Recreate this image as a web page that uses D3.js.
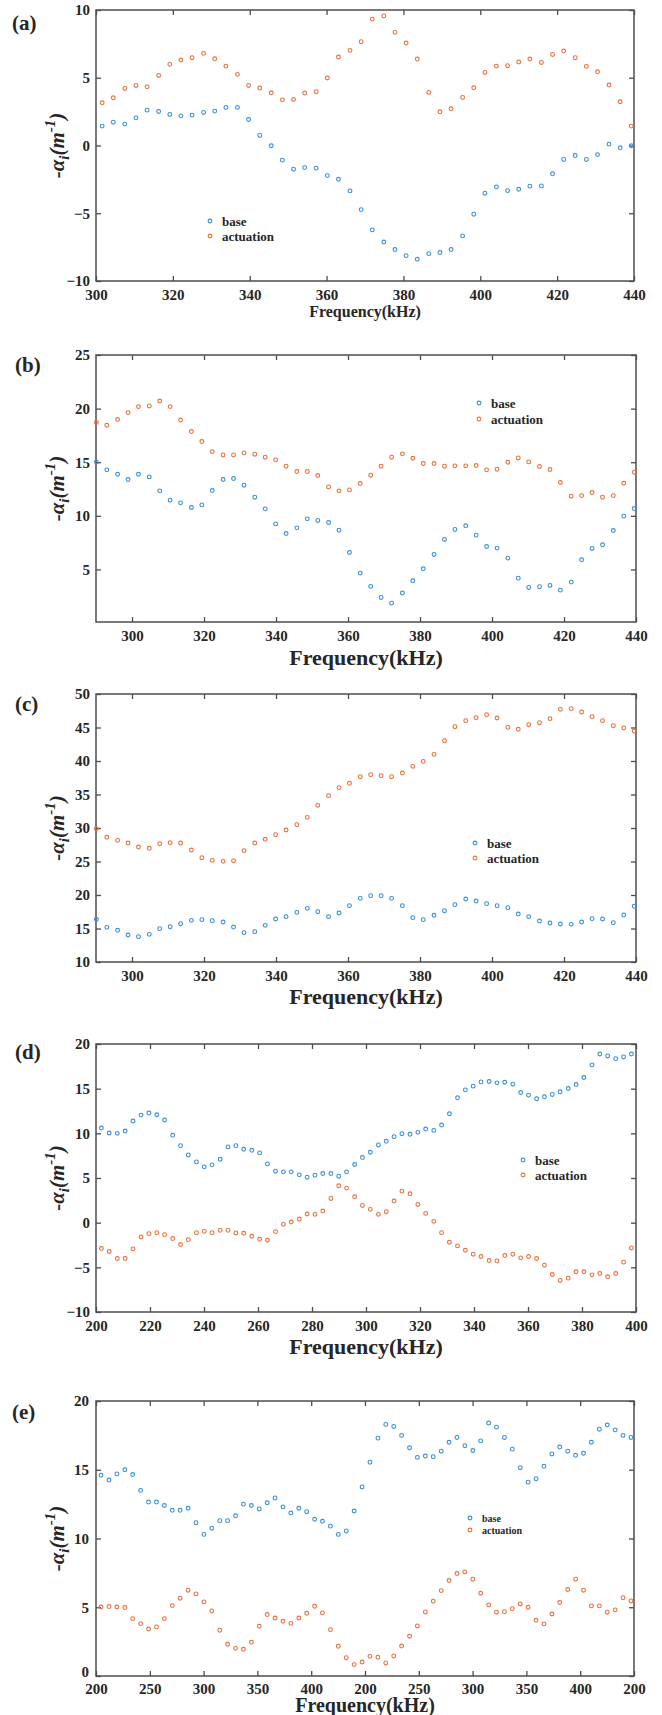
<!DOCTYPE html>
<html>
<head>
<meta charset="utf-8">
<script src="https://cdn.jsdelivr.net/npm/d3@7/dist/d3.min.js"></script>
<style>
  html, body { margin: 0; padding: 0; background: #ffffff; }
  svg { display: block; }
  text { font-family: "Liberation Serif", "Times New Roman", serif; fill: #262626; }
</style>
</head>
<body>
<svg id="chart" width="662" height="1715"></svg>
<script>
// ---------------- DATA ----------------
const seriesNames = ["base", "actuation"];
const panelLabels = ["(a)", "(b)", "(c)", "(d)", "(e)"];
const xTitle = "Frequency(kHz)";

// (a)
const freqA = [301.6,304.5,307.5,310.4,313.3,316.3,319.2,322.1,325.0,328.0,330.9,333.8,336.8,339.7,342.6,345.6,348.5,351.4,354.3,357.3,360.2,363.1,366.1,369.0,371.9,374.9,377.8,380.7,383.6,386.6,389.5,392.4,395.4,398.3,401.2,404.2,407.1,410.0,412.9,415.9,418.8,421.7,424.7,427.6,430.5,433.5,436.4,439.3];
const baseA = [1.43,1.72,1.58,2.04,2.61,2.51,2.29,2.19,2.24,2.44,2.54,2.81,2.81,1.92,0.74,-0.02,-1.08,-1.75,-1.63,-1.67,-2.22,-2.49,-3.35,-4.73,-6.23,-7.12,-7.68,-8.13,-8.40,-7.98,-7.90,-7.68,-6.67,-5.07,-3.52,-3.05,-3.33,-3.23,-3.00,-2.98,-2.09,-1.03,-0.74,-1.03,-0.67,0.10,-0.17,-0.02];
const actA = [3.15,3.52,4.21,4.43,4.33,5.17,5.99,6.31,6.48,6.80,6.40,5.86,5.25,4.43,4.24,3.89,3.37,3.40,3.87,3.97,4.98,6.53,7.02,7.66,9.33,9.56,8.35,7.56,6.38,3.92,2.49,2.71,3.55,4.26,5.39,5.86,5.89,6.16,6.38,6.13,6.72,6.97,6.48,5.84,5.44,4.46,3.23,1.43];
const xTicksA = [300,320,340,360,380,400,420,440];
const yTicksA = [-10,-5,0,5,10];

// (b) and (c) share the frequency grid
const freqBC = [290.1,293.0,296.0,298.9,301.8,304.8,307.7,310.6,313.5,316.5,319.4,322.3,325.3,328.2,331.1,334.1,337.0,339.9,342.8,345.8,348.7,351.6,354.6,357.5,360.4,363.4,366.3,369.2,372.1,375.1,378.0,380.9,383.9,386.8,389.7,392.7,395.6,398.5,401.4,404.4,407.3,410.2,413.2,416.1,419.0,422.0,424.9,427.8,430.7,433.7,436.6,439.5];
const baseB = [15.03,14.29,13.88,13.39,13.88,13.63,12.33,11.46,11.21,10.78,11.02,12.36,13.39,13.48,12.86,11.74,10.65,9.25,8.35,8.88,9.72,9.57,9.38,8.66,6.58,4.66,3.42,2.39,1.86,2.80,3.94,5.06,6.40,7.80,8.73,9.07,8.20,7.14,6.99,6.06,4.19,3.32,3.39,3.51,3.07,3.82,5.90,6.96,7.30,8.63,9.97,10.68];
const actB = [18.70,18.45,18.98,19.63,20.19,20.25,20.71,20.19,18.94,17.86,16.93,15.99,15.68,15.68,15.87,15.75,15.47,15.22,14.63,14.13,14.13,13.76,12.70,12.33,12.42,13.01,13.79,14.63,15.47,15.78,15.37,14.88,14.88,14.63,14.66,14.66,14.69,14.29,14.35,15.00,15.40,15.03,14.60,14.32,13.11,11.83,11.89,12.17,11.74,11.89,13.04,14.07];
const xTicksBC = [300,320,340,360,380,400,420,440];
const yTicksB = [5,10,15,20,25];

const baseC = [16.37,15.17,14.73,14.03,13.78,14.13,14.98,15.27,15.72,16.22,16.32,16.17,15.97,15.22,14.38,14.53,15.47,16.42,16.77,17.41,18.01,17.51,16.77,17.31,18.41,19.50,19.90,19.90,19.50,18.41,16.62,16.32,16.97,17.66,18.56,19.40,19.10,18.71,18.41,18.11,17.16,16.77,16.12,15.82,15.67,15.62,15.97,16.47,16.42,15.87,17.01,18.31];
const actC = [29.90,28.61,28.16,27.76,27.16,26.97,27.66,27.81,27.76,26.72,25.57,25.17,25.02,25.12,26.62,27.76,28.31,29.00,29.70,30.50,31.59,33.38,34.83,36.02,36.67,37.66,37.96,37.81,37.66,38.21,39.20,39.95,40.99,43.03,45.12,46.02,46.47,46.92,46.42,45.02,44.73,45.42,45.72,46.32,47.71,47.81,47.31,46.62,46.02,45.27,44.93,44.48];
const yTicksC = [10,15,20,25,30,35,40,45,50];

// (d)
const freqD = [202.0,204.9,207.9,210.8,213.7,216.7,219.6,222.5,225.4,228.4,231.3,234.2,237.2,240.1,243.0,246.0,248.9,251.8,254.7,257.7,260.6,263.5,266.5,269.4,272.3,275.3,278.2,281.1,284.0,287.0,289.9,292.8,295.8,298.7,301.6,304.6,307.5,310.4,313.3,316.3,319.2,322.1,325.1,328.0,330.9,333.9,336.8,339.7,342.6,345.6,348.5,351.4,354.4,357.3,360.2,363.2,366.1,369.0,371.9,374.9,377.8,380.7,383.7,386.6,389.5,392.5,395.4,398.3];
const baseD = [10.59,10.04,10.00,10.26,11.38,12.04,12.27,12.08,11.49,9.78,8.62,7.58,6.80,6.25,6.47,7.10,8.48,8.62,8.22,8.10,7.81,6.58,5.76,5.69,5.69,5.35,5.09,5.32,5.50,5.50,5.20,5.69,6.51,7.29,7.88,8.70,9.11,9.63,9.96,9.89,10.11,10.48,10.33,10.93,12.19,13.98,14.87,15.28,15.76,15.80,15.65,15.72,15.50,14.57,14.28,13.87,14.09,14.35,14.65,15.02,15.46,16.25,17.66,18.88,18.66,18.36,18.55,18.88];
const actD = [-2.90,-3.23,-4.01,-4.01,-2.94,-1.60,-1.23,-1.12,-1.34,-1.78,-2.45,-1.90,-1.12,-0.97,-1.12,-0.86,-0.86,-1.15,-1.19,-1.52,-1.86,-1.97,-1.00,-0.19,0.07,0.41,0.97,0.93,1.30,2.71,4.13,3.87,2.90,1.93,1.49,0.93,1.23,2.42,3.53,3.23,2.04,1.04,0.15,-1.12,-2.19,-2.60,-3.09,-3.53,-3.79,-4.24,-4.28,-3.68,-3.53,-3.94,-3.79,-4.01,-4.76,-5.80,-6.47,-6.21,-5.50,-5.50,-5.84,-5.69,-6.06,-5.69,-4.42,-2.83];
const xTicksD = [200,220,240,260,280,300,320,340,360,380,400];
const yTicksD = [-10,-5,0,5,10,15,20];

// (e) -- axis made of repeated sweeps; position along the axis and its labels
const posE = [4.7,12.1,19.4,26.8,34.1,41.5,48.8,56.2,63.5,70.9,78.2,85.6,92.9,100.3,107.6,115.0,122.3,129.7,137.0,144.4,151.7,159.1,166.4,173.8,181.1,188.5,195.8,203.2,210.5,217.9,225.2,232.6,239.9,247.3,254.6,262.0,269.3,276.7,284.0,291.4,298.7,306.1,313.4,320.8,328.1,335.5,342.8,350.2,357.5,364.9,372.2,379.6,386.9,394.3,401.6,409.0,416.3,423.7,431.0,438.4,445.7,453.1,460.4,467.8,475.1,482.5,489.8,497.2];
const baseE = [14.60,14.25,14.70,15.00,14.65,13.50,12.65,12.65,12.40,12.05,12.05,12.20,11.15,10.30,10.75,11.30,11.30,11.65,12.50,12.40,12.15,12.60,12.95,12.30,11.85,12.20,11.95,11.40,11.25,10.90,10.30,10.55,12.00,13.75,15.55,17.30,18.30,18.15,17.50,16.60,15.90,16.00,15.95,16.35,17.00,17.35,16.75,16.40,17.10,18.40,18.10,17.35,16.50,15.15,14.10,14.35,15.25,16.15,16.65,16.35,16.05,16.20,17.00,17.95,18.25,17.90,17.50,17.35];
const actE = [5.02,5.05,5.02,4.98,4.17,3.81,3.42,3.57,4.17,5.12,5.66,6.24,5.97,5.39,4.73,3.33,2.31,2.01,1.94,2.45,3.62,4.47,4.22,3.98,3.83,4.22,4.56,5.07,4.59,3.37,2.16,1.33,0.83,1.02,1.43,1.36,0.95,1.46,2.18,2.89,3.64,4.66,5.44,6.21,6.94,7.45,7.57,7.04,6.02,5.17,4.64,4.68,4.90,5.24,5.00,4.05,3.79,4.51,5.34,6.29,7.04,6.24,5.10,5.10,4.64,4.81,5.70,5.46];
const xTicksE = [0,50,100,150,200,250,300,350,400,450,500];
const xTickLabelsE = ["200","250","300","350","400","200","250","300","350","400","200"];
const yTicksE = [0,5,10,15,20];

// ---------------- STYLE / LAYOUT ----------------
const colors = ["#3b8fd9", "#e8713f"];
const frameColor = "#4d4d4d";

const panels = [
  { label: panelLabels[0], x: freqA, s: [baseA, actA], xd: [300, 440], yd: [-10, 10], xt: xTicksA, yt: yTicksA,
    box: { l: 96, r: 634, t: 10, b: 281 }, lab: { x: 12, y: 30 }, pad: 8, ydx: 2, lowLift: 0,
    title: { y: 317, size: 16 }, leg: { x: 210, y: 221, gap: 15, size: 13 } },
  { label: panelLabels[1], x: freqBC, s: [baseB, actB], xd: [290, 440], yd: [0.1, 25], xt: xTicksBC, yt: yTicksB,
    box: { l: 96, r: 636, t: 355, b: 622 }, lab: { x: 15, y: 372 }, pad: 8, ydx: 2, lowLift: 0,
    title: { y: 665, size: 22 }, leg: { x: 479, y: 403, gap: 16, size: 13 } },
  { label: panelLabels[2], x: freqBC, s: [baseC, actC], xd: [290, 440], yd: [10, 50], xt: xTicksBC, yt: yTicksC,
    box: { l: 96, r: 636, t: 694, b: 962 }, lab: { x: 15, y: 711 }, pad: 8, ydx: 2, lowLift: 0,
    title: { y: 1004, size: 22 }, leg: { x: 475, y: 843, gap: 15, size: 13 } },
  { label: panelLabels[3], x: freqD, s: [baseD, actD], xd: [200, 400], yd: [-10, 20], xt: xTicksD, yt: yTicksD,
    box: { l: 96, r: 636, t: 1044, b: 1312 }, lab: { x: 15, y: 1059 }, pad: 8, ydx: 2, lowLift: 0,
    title: { y: 1354, size: 22 }, leg: { x: 523, y: 1160, gap: 15, size: 13 } },
  { label: panelLabels[4], x: posE, s: [baseE, actE], xd: [0, 500], yd: [0, 20], xt: xTicksE, xtl: xTickLabelsE, yt: yTicksE,
    box: { l: 96, r: 634, t: 1401, b: 1676 }, lab: { x: 12, y: 1419 }, pad: 7, ydx: 1, lowLift: 4,
    title: { y: 1712, size: 20 }, leg: { x: 470, y: 1518, gap: 12, size: 10 } }
];

const svg = d3.select("#chart");

panels.forEach(p => {
  const g = svg.append("g");
  const { l, r, t, b } = p.box;
  const x = d3.scaleLinear().domain(p.xd).range([l, r]);
  const y = d3.scaleLinear().domain(p.yd).range([b, t]);
  const tickLen = 5;

  // bottom axis (ticks inward)
  const xAxis = d3.axisBottom(x).tickValues(p.xt).tickSizeInner(-tickLen).tickSizeOuter(0).tickPadding(p.pad);
  if (p.xtl) xAxis.tickFormat((d, i) => p.xtl[i]);
  else xAxis.tickFormat(d3.format("d"));
  const gx = g.append("g").attr("transform", `translate(0,${b})`).call(xAxis);
  // top ticks
  const gxt = g.append("g").attr("transform", `translate(0,${t})`)
    .call(d3.axisTop(x).tickValues(p.xt).tickSizeInner(-tickLen).tickSizeOuter(0).tickFormat(""));
  // left axis
  const gy = g.append("g").attr("transform", `translate(${l},0)`)
    .call(d3.axisLeft(y).tickValues(p.yt).tickSizeInner(-tickLen).tickSizeOuter(0).tickPadding(8).tickFormat(d3.format("d")));
  const gyr = g.append("g").attr("transform", `translate(${r},0)`)
    .call(d3.axisRight(y).tickValues(p.yt).tickSizeInner(-tickLen).tickSizeOuter(0).tickFormat(""));

  [gx, gxt, gy, gyr].forEach(a => {
    a.attr("font-family", null);
    a.select(".domain").remove();
    a.selectAll(".tick line").attr("stroke", frameColor).attr("stroke-width", 1.3);
    a.selectAll(".tick text")
      .attr("fill", "#262626")
      .style("font-family", '"Liberation Serif", "Times New Roman", serif')
      .style("font-weight", "bold")
      .style("font-size", "15px");
  });
  gy.selectAll(".tick text").attr("dx", p.ydx);
  // lift the lowest y label slightly so it clears the first x label at the corner
  if (p.lowLift) {
    gy.selectAll(".tick text").filter(d => d === p.yd[0]).attr("y", -p.lowLift);
  }

  // frame
  g.append("rect").attr("x", l).attr("y", t).attr("width", r - l).attr("height", b - t)
    .attr("fill", "none").attr("stroke", frameColor).attr("stroke-width", 1.5);

  // points
  p.s.forEach((vals, si) => {
    const pts = vals.map((v, i) => [p.x[i], v]).filter(d => d[0] !== undefined);
    g.append("g").selectAll("circle").data(pts).join("circle")
      .attr("cx", d => x(d[0])).attr("cy", d => y(d[1])).attr("r", 1.9)
      .attr("fill", "none").attr("stroke", colors[si]).attr("stroke-width", 1.1);
  });

  // legend
  seriesNames.forEach((name, si) => {
    const ly = p.leg.y + si * p.leg.gap;
    g.append("circle").attr("cx", p.leg.x).attr("cy", ly).attr("r", 1.9)
      .attr("fill", "none").attr("stroke", colors[si]).attr("stroke-width", 1.1);
    g.append("text").attr("x", p.leg.x + 12).attr("y", ly).attr("dy", "0.35em")
      .style("font-weight", "bold").style("font-size", p.leg.size + "px").text(name);
  });

  // panel label
  g.append("text").attr("x", p.lab.x).attr("y", p.lab.y)
    .style("font-weight", "bold").style("font-size", "21px").text(p.label);

  // x title
  g.append("text").attr("x", (l + r) / 2).attr("y", p.title.y).attr("text-anchor", "middle")
    .style("font-weight", "bold").style("font-size", p.title.size + "px").text(xTitle);

  // y title: -α_i(m^-1)
  const yt = g.append("text")
    .attr("transform", `translate(64,${(t + b) / 2}) rotate(-90)`)
    .attr("text-anchor", "middle")
    .style("font-weight", "bold").style("font-style", "italic").style("font-size", "21px");
  yt.append("tspan").text("-\u03B1");
  yt.append("tspan").attr("dy", 5).style("font-size", "15px").text("i");
  yt.append("tspan").attr("dy", -5).text("(m");
  yt.append("tspan").attr("dy", -9).style("font-size", "15px").text("-1");
  yt.append("tspan").attr("dy", 9).text(")");
});
</script>
</body>
</html>
